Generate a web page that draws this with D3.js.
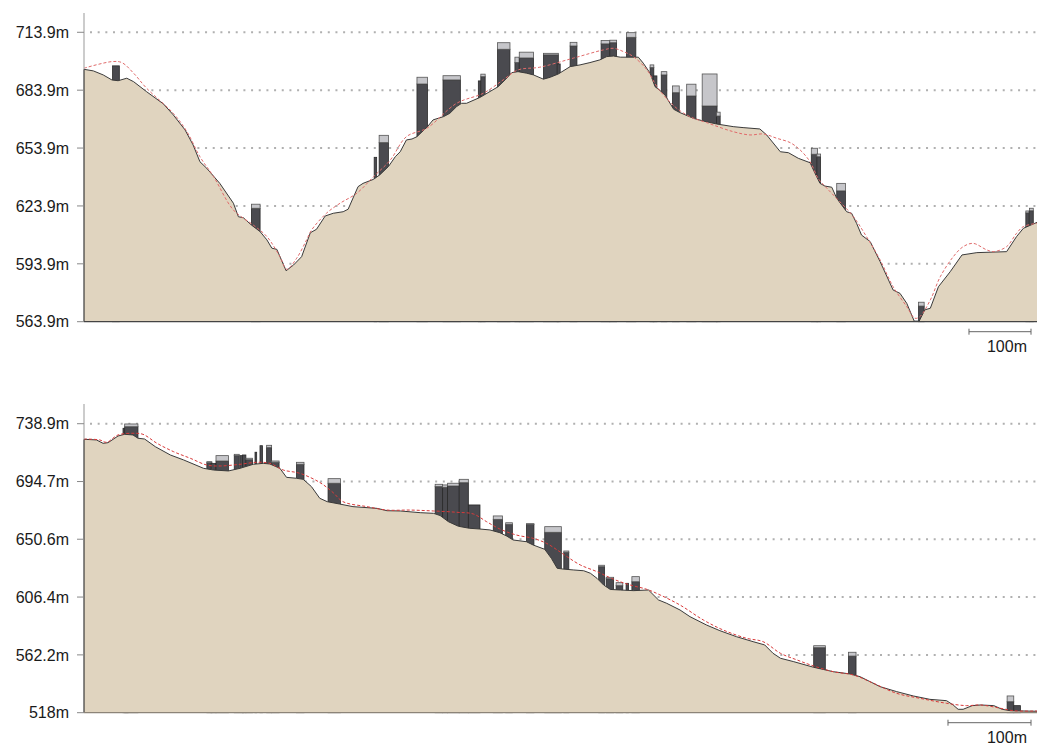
<!DOCTYPE html>
<html><head><meta charset="utf-8">
<script src="https://cdn.jsdelivr.net/npm/d3@7/dist/d3.min.js"></script>
<style>
html,body{margin:0;padding:0;background:#fff;}
svg text{font-family:"Liberation Sans",Arial,sans-serif;font-size:16px;fill:#1a1a1a;}
</style></head>
<body>
<svg id="chart" width="1037" height="746"></svg>
<script>
// ---------- TOP PROFILE DATA (distance m, elevation m) ----------
const topTicks = [563.9, 593.9, 623.9, 653.9, 683.9, 713.9];
const topTickLabels = ["563.9m", "593.9m", "623.9m", "653.9m", "683.9m", "713.9m"];
const topGround = [
 [0,694.7],[15,693.9],[31,691.8],[45,689.2],[55,688.8],[69,690.1],[80,688.3],[101,683.1],
 [128,676.8],[144,671.1],[163,663.3],[176,655.5],[187,646.8],[198,643.4],[219,635.6],[241,625.3],
 [249,618.3],[257,617.8],[270,614.0],[284,610.6],[295,606.3],[303,602.0],[311,601.4],[326,590.3],
 [338,593.3],[351,597.6],[365,610.0],[375,611.8],[389,618.7],[402,620.1],[418,620.9],[426,622.2],
 [442,633.9],[450,635.6],[467,637.7],[477,640.0],[491,644.3],[502,649.4],[510,652.0],[520,658.1],
 [529,658.6],[537,659.8],[554,665.0],[563,668.5],[580,670.2],[590,671.9],[601,675.4],[609,677.1],
 [617,677.1],[639,680.2],[650,682.3],[668,685.7],[679,689.2],[690,693.0],[700,693.5],[714,692.7],
 [725,691.8],[741,689.6],[752,690.6],[765,692.3],[784,696.1],[800,697.0],[816,698.2],[832,699.6],
 [843,701.3],[854,701.6],[865,701.0],[894,701.0],[902,697.9],[913,692.7],[921,685.7],[929,683.7],
 [937,681.4],[951,674.0],[961,672.3],[983,669.3],[999,667.9],[1020,666.4],[1047,665.0],[1063,664.5],
 [1090,663.8],[1101,660.7],[1123,652.0],[1136,651.5],[1152,648.6],[1171,646.3],[1179,640.8],[1187,635.6],
 [1195,634.2],[1206,633.6],[1214,627.9],[1230,620.9],[1238,620.1],[1246,614.9],[1254,608.8],[1268,605.4],
 [1284,595.0],[1305,580.3],[1316,578.6],[1327,573.4],[1339,564.2],[1347,564.2],[1356,570.0],[1365,570.9],
 [1378,582.0],[1397,589.8],[1416,598.5],[1440,599.7],[1488,600.2],[1504,608.0],[1515,612.3],[1537,615.4]
];
const topSmooth = [
 [0,695.3],[45,698.7],[61,698.2],[80,692.7],[101,684.9],[144,671.9],[166,662.4],[187,649.4],
 [209,639.1],[241,621.8],[273,614.0],[295,608.0],[316,597.6],[327,591.1],[343,596.8],[359,606.3],
 [367,611.4],[391,620.1],[413,625.3],[440,630.5],[467,639.1],[494,647.7],[520,659.8],[553,664.2],
 [601,677.1],[644,682.3],[676,689.2],[700,694.4],[735,695.8],[789,700.5],[838,704.8],[854,705.6],
 [870,703.9],[886,701.3],[908,694.4],[924,685.7],[942,678.8],[956,674.5],[977,670.2],[1004,667.1],
 [1047,662.4],[1074,660.7],[1096,661.2],[1117,659.0],[1139,656.7],[1155,652.9],[1171,646.8],[1184,638.2],
 [1198,633.1],[1219,626.1],[1241,618.3],[1262,608.0],[1284,595.9],[1305,582.0],[1327,571.7],[1340,565.7],
 [1348,566.5],[1365,575.2],[1381,587.2],[1402,597.6],[1418,602.8],[1434,604.5],[1456,601.1],[1467,600.2],
 [1488,602.8],[1504,609.7],[1515,613.2],[1537,614.9]
];
// [start m, end m, wall top elevation, roof top elevation]
const topBuildings = [
 [46,57,696.5,696.5],[270,284,622.7,624.8],[468,472,649.1,649.1],[476,491,656.7,660.5],
 [537,554,687.1,690.6],[579,607,689.2,691.4],[636,640,688.7,688.7],[640,647,690.9,692.2],
 [667,687,705.1,708.5],[695,702,698.2,701.0],[702,725,700.6,703.6],[741,765,702.2,703.0],
 [763,768,697.5,697.5],[784,795,706.8,708.7],[834,848,707.9,709.6],[848,859,708.5,709.8],
 [875,890,711.3,713.7],[913,919,695.6,697.0],[918,924,691.3,691.3],[931,940,691.8,693.5],
 [949,960,682.6,686.1],[972,987,680.9,687.0],[997,1021,675.7,692.3],[1020,1026,670.5,672.5],
 [1173,1183,650.7,653.8],[1182,1188,649.4,650.8],[1214,1228,631.7,635.6],[1346,1355,572.0,574.0],
 [1519,1524,620.3,621.3],[1525,1531,621.4,622.7]
];

// ---------- BOTTOM PROFILE DATA ----------
const bottomTicks = [518, 562.2, 606.4, 650.6, 694.7, 738.9];
const bottomTickLabels = ["518m", "562.2m", "606.4m", "650.6m", "694.7m", "738.9m"];
const bottomGround = [
 [0,727.0],[15,726.5],[23,723.9],[29,724.4],[41,729.5],[49,730.8],[59,730.3],[65,727.8],[73,727.2],
 [86,721.3],[104,715.0],[120,711.2],[144,704.8],[156,703.5],[174,702.8],[188,704.8],[204,707.9],
 [216,708.6],[224,708.1],[236,704.8],[244,697.9],[256,697.2],[264,696.4],[274,690.8],[284,681.9],
 [293,679.3],[308,677.5],[324,675.5],[353,674.2],[365,672.4],[381,672.2],[405,670.9],[421,670.4],
 [429,668.7],[439,664.0],[451,660.5],[464,659.0],[477,658.4],[489,657.7],[501,655.6],[509,653.1],
 [517,650.0],[533,648.7],[541,646.2],[555,642.9],[563,636.0],[570,628.4],[577,627.8],[590,627.1],
 [602,626.5],[610,624.6],[618,620.7],[626,615.6],[634,612.2],[646,611.8],[662,611.3],[680,611.8],
 [692,604.2],[702,601.6],[718,596.5],[730,591.4],[750,585.0],[766,580.7],[786,576.1],[806,572.3],
 [820,569.8],[830,563.4],[839,559.6],[855,557.0],[879,552.7],[903,549.3],[923,547.6],[935,545.5],
 [947,541.7],[959,537.9],[979,534.1],[999,530.8],[1019,528.2],[1039,527.2],[1047,523.9],[1053,520.6],
 [1059,520.6],[1070,523.4],[1080,523.9],[1096,523.4],[1106,520.6],[1116,519.5],[1148,519.1]
];
const bottomSmooth = [
 [0,727.2],[19,726.5],[27,724.7],[41,730.3],[59,731.6],[71,730.8],[88,723.9],[108,717.5],
 [128,712.5],[148,707.3],[164,706.6],[188,707.9],[208,709.4],[224,708.6],[240,703.5],[260,701.0],
 [284,694.0],[300,686.3],[312,679.3],[341,675.5],[365,672.9],[393,672.9],[421,672.2],[449,671.2],
 [469,669.9],[485,664.0],[501,658.4],[521,653.8],[541,651.3],[557,647.5],[570,642.4],[582,637.2],
 [598,630.9],[618,625.8],[638,620.0],[658,615.6],[678,612.3],[694,608.0],[718,600.3],[746,588.9],
 [770,581.2],[798,574.9],[818,572.3],[839,563.4],[859,558.3],[879,553.7],[903,549.3],[927,546.8],
 [951,540.5],[979,532.8],[1007,529.0],[1039,525.2],[1063,523.4],[1080,523.9],[1104,521.4],[1120,519.5],
 [1148,519.3]
];
const bottomBuildings = [
 [47,53,735.4,735.4],[49,65,736.6,738.7],[148,154,709.1,709.9],[153,159,708.6,708.6],
 [159,174,710.4,714.5],[181,187,714.5,715.5],[188,192,714.5,714.5],[191,195,715.0,715.0],
 [195,203,711.4,712.5],[206,208,717.1,717.1],[212,215,722.1,722.1],[220,226,720.6,722.4],
 [226,235,709.4,710.4],[256,265,707.9,709.4],[294,309,693.4,696.9],[423,432,690.8,692.6],
 [432,438,690.3,692.1],[438,452,691.3,693.4],[452,463,693.8,696.4],[463,477,676.8,676.8],
 [493,504,665.8,668.4],[508,516,662.0,663.2],[533,542,662.0,662.5],[555,575,655.9,660.2],
 [578,584,640.6,641.6],[620,627,629.6,630.7],[629,638,620.4,621.5],[641,649,615.1,617.4],
 [653,656,616.9,616.9],[660,669,618.1,622.0],[879,893,567.7,569.2],[921,930,561.3,564.2],
 [1112,1120,526.4,530.8],[1120,1128,523.4,523.4]
];
const scaleLength = 100;
const scaleLabel = "100m";

// ---------- DRAWING ----------
const svg = d3.select("#chart");

function drawProfile(opt) {
  const x = d3.scaleLinear().domain(opt.xDomain).range([84, 1037]);
  const y = d3.scaleLinear().domain(opt.yDomain).range([opt.bottom, opt.top]);
  const g = svg.append("g");
  const yMin = opt.yDomain[0];

  // dotted grid
  g.append("g").selectAll("line").data(opt.ticks.slice(1)).join("line")
    .attr("x1", 90).attr("x2", 1037)
    .attr("y1", d => y(d)).attr("y2", d => y(d))
    .attr("stroke", "#b0b0b0").attr("stroke-width", 2)
    .attr("stroke-dasharray", "2 5.67");

  // buildings (behind terrain so that they sit on the ground)
  const bg = g.append("g");
  opt.buildings.forEach(b => {
    const x0 = x(b[0]), w = x(b[1]) - x(b[0]);
    bg.append("rect").attr("x", x0).attr("width", w)
      .attr("y", y(b[2])).attr("height", y(yMin) - y(b[2]))
      .attr("fill", "#4a4a4f").attr("stroke", "#2a2a2a").attr("stroke-width", 0.8);
    if (b[3] > b[2]) {
      bg.append("rect").attr("x", x0).attr("width", w)
        .attr("y", y(b[3])).attr("height", y(b[2]) - y(b[3]))
        .attr("fill", "#c6c6ca").attr("stroke", "#555", ).attr("stroke-width", 0.8);
    }
  });

  // terrain
  const area = d3.area().x(d => x(d[0])).y0(y(yMin)).y1(d => y(d[1]));
  g.append("path").datum(opt.ground).attr("d", area)
    .attr("fill", "#e0d4bf").attr("stroke", "none");
  const line = d3.line().x(d => x(d[0])).y(d => y(d[1]));
  g.append("path").datum(opt.ground).attr("d", line)
    .attr("fill", "none").attr("stroke", "#3a3a3a").attr("stroke-width", 1);
  // left edge
  g.append("line").attr("x1", x(0)).attr("x2", x(0))
    .attr("y1", y(opt.ground[0][1])).attr("y2", y(yMin))
    .attr("stroke", "#3a3a3a").attr("stroke-width", 1.2);

  // smoothed line
  const sline = d3.line().x(d => x(d[0])).y(d => y(d[1])).curve(d3.curveCatmullRom);
  g.append("path").datum(opt.smooth).attr("d", sline)
    .attr("fill", "none").attr("stroke", opt.redColor).attr("stroke-width", 1)
    .attr("stroke-dasharray", "3 2");

  // axis
  g.append("line").attr("x1", 84).attr("x2", 84).attr("y1", opt.top).attr("y2", y(opt.ground[0][1]))
    .attr("stroke", "#aaaaaa").attr("stroke-width", 1.2);
  g.append("line").attr("x1", 84).attr("x2", 1037).attr("y1", y(yMin)).attr("y2", y(yMin))
    .attr("stroke", opt.baseColor).attr("stroke-width", 1.2);
  const ag = g.append("g");
  ag.selectAll("line").data(opt.ticks).join("line")
    .attr("x1", 77).attr("x2", 84).attr("y1", d => y(d)).attr("y2", d => y(d))
    .attr("stroke", "#888").attr("stroke-width", 1);
  ag.selectAll("text").data(opt.ticks).join("text")
    .attr("x", 69).attr("y", d => y(d)).attr("dy", "0.36em")
    .attr("text-anchor", "end")
    .text((d, i) => opt.labels[i]);

  // scale bar
  const right = 1031, left = right - (x(scaleLength) - x(0));
  const sy = opt.bottom + 10;
  const sb = g.append("g").attr("stroke", "#666").attr("stroke-width", 1);
  sb.append("line").attr("x1", left).attr("x2", right).attr("y1", sy).attr("y2", sy);
  sb.append("line").attr("x1", left).attr("x2", left).attr("y1", sy - 3).attr("y2", sy + 3);
  sb.append("line").attr("x1", right).attr("x2", right).attr("y1", sy - 3).attr("y2", sy + 3);
  g.append("text").attr("x", 1027).attr("y", sy + 20).attr("text-anchor", "end").text(scaleLabel);
}

drawProfile({
  xDomain: [0, 1537], yDomain: [563.9, 723.9], top: 13, bottom: 321.7,
  ticks: topTicks, labels: topTickLabels, ground: topGround, smooth: topSmooth,
  buildings: topBuildings, redColor: "#e06a6a", baseColor: "#444"
});
drawProfile({
  xDomain: [0, 1148], yDomain: [518, 753.97], top: 404, bottom: 712.7,
  ticks: bottomTicks, labels: bottomTickLabels, ground: bottomGround, smooth: bottomSmooth,
  buildings: bottomBuildings, redColor: "#d83a3a", baseColor: "#8c8478"
});
</script>
</body></html>
